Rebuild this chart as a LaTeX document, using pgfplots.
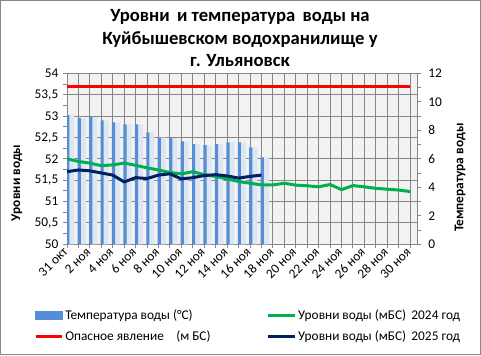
\documentclass[border=0pt]{standalone}
\usepackage{pgfplots}
\usepackage{pgfplotstable}
\pgfplotsset{compat=1.18}
\usepackage{fontspec}
\setmainfont{Carlito}
\definecolor{barblue}{RGB}{85,142,213}
\definecolor{barshadow}{RGB}{222,230,242}
\definecolor{plotbg}{RGB}{242,242,242}
\definecolor{gridgray}{RGB}{134,134,134}
\definecolor{xlgreen}{RGB}{0,176,80}
\definecolor{xlnavy}{RGB}{0,32,96}
\definecolor{xlred}{RGB}{255,0,0}

% Temperature of water (deg C), 2025
\pgfplotstableread{
x t
0 9.10
1 8.86
2 8.93
3 8.70
4 8.57
5 8.42
6 8.42
7 7.86
8 7.49
9 7.46
10 7.23
11 7.04
12 6.97
13 7.04
14 7.16
15 7.16
16 6.81
17 6.10
}\temptable

% Water level 2024 (m BS)
\pgfplotstableread{
x y
0 52.00
1 51.94
2 51.90
3 51.84
4 51.86
5 51.90
6 51.85
7 51.79
8 51.74
9 51.68
10 51.65
11 51.70
12 51.63
13 51.59
14 51.53
15 51.47
16 51.43
17 51.39
18 51.39
19 51.43
20 51.385
21 51.37
22 51.345
23 51.40
24 51.28
25 51.375
26 51.345
27 51.31
28 51.29
29 51.27
30 51.235
}\lvltwentyfour

% Water level 2025 (m BS)
\pgfplotstableread{
x y
0 51.70
1 51.74
2 51.72
3 51.67
4 51.62
5 51.46
6 51.56
7 51.54
8 51.62
9 51.65
10 51.53
11 51.56
12 51.61
13 51.63
14 51.60
15 51.55
16 51.59
17 51.62
}\lvltwentyfive

% Dangerous level (m BS)
\pgfplotstableread{
x y
0 53.7
1 53.7
2 53.7
3 53.7
4 53.7
5 53.7
6 53.7
7 53.7
8 53.7
9 53.7
10 53.7
11 53.7
12 53.7
13 53.7
14 53.7
15 53.7
16 53.7
17 53.7
18 53.7
19 53.7
20 53.7
21 53.7
22 53.7
23 53.7
24 53.7
25 53.7
26 53.7
27 53.7
28 53.7
29 53.7
30 53.7
}\danger

\pgfplotsset{
  base/.style={
    at={(50.25pt,-183.2pt)}, anchor=south west, scale only axis,
    width=262.5pt, height=128.1pt,
    xmin=0, xmax=30.6,
    tick label style={font=\fontsize{10}{12}\selectfont, black},
    /pgf/number format/assume math mode=true,
    /pgf/number format/use comma,
    axis line style={gridgray, line width=0.75pt},
    tick style={gridgray, line width=0.75pt},
    tick align=outside, major tick length=3pt, minor tick length=3pt,
  }
}

\begin{document}
\begin{tikzpicture}
\useasboundingbox (0,0) rectangle (360.75pt,-266.25pt);
\fill[white] (0,0) rectangle (360.75pt,-266.25pt);
\draw[gridgray, line width=0.75pt] (0.375pt,-0.375pt) rectangle (360.375pt,-265.875pt);

% title
\node[font=\bfseries\fontsize{14}{16.8}\selectfont, anchor=base, inner sep=0pt] at (180pt,-16.3pt) {Уровни\, и температура\, воды на};
\node[font=\bfseries\fontsize{14}{16.8}\selectfont, anchor=base, inner sep=0pt] at (180pt,-33pt) {Куйбышевском водохранилище у};
\node[font=\bfseries\fontsize{14}{16.8}\selectfont, anchor=base, inner sep=0pt] at (180pt,-49.5pt) {г. Ульяновск};

% background, grid, left axis, x labels
\begin{axis}[base,
  axis background/.style={fill=plotbg},
  ymin=50, ymax=54, ytick={50,50.5,...,54}, minor y tick num=1,
  ytick pos=left, xtick pos=left,
  xtick={0,2,...,30}, minor xtick={1,3,...,29},
  xticklabels={31 окт,2 ноя,4 ноя,6 ноя,8 ноя,10 ноя,12 ноя,14 ноя,16 ноя,18 ноя,20 ноя,22 ноя,24 ноя,26 ноя,28 ноя,30 ноя},
  xticklabel style={rotate=45, anchor=east, inner sep=1.5pt},
  xmajorgrids, xminorgrids, ymajorgrids,
  major grid style={gridgray, line width=0.75pt},
  minor grid style={gridgray, line width=0.75pt},
  ylabel={Уровни воды},
  ylabel style={font=\bfseries\fontsize{10}{12}\selectfont, at={(axis description cs:-0.143,0.36)}, anchor=center},
]
\end{axis}

% temperature bars, right axis
\begin{axis}[base,
  axis x line=none, axis y line*=right,
  ymin=0, ymax=12, ytick={0,2,...,12}, minor y tick num=1,
  yticklabel style={xshift=2pt},
  ylabel={Температура воды},
  ylabel style={font=\bfseries\fontsize{10}{12}\selectfont, at={(axis description cs:1.123,0.39)}, anchor=center},
]
\addplot[ybar, bar width=5pt, bar shift=3pt, fill=barshadow, draw=none, forget plot] table[x=x, y=t] {\temptable};
\addplot[ybar, bar width=2.4pt, bar shift=0.6pt, fill=barblue, draw=none, forget plot] table[x=x, y=t] {\temptable};
\end{axis}

% water levels, left axis
\begin{axis}[base,
  hide axis,
  ymin=50, ymax=54,
  legend columns=2,
  legend style={at={(axis description cs:-0.095,-0.37)}, anchor=north west,
    draw=none, fill=none, inner sep=0pt, row sep=5pt,
    font=\fontsize{10}{12}\selectfont,
    nodes={inner sep=1.2pt}},
  legend cell align=left,
  legend image code/.code={\draw[#1] (0pt,0pt) -- (20pt,0pt);},
]
\addlegendimage{legend image code/.code={\fill[barblue] (0pt,-2.8pt) rectangle (20pt,2.8pt);}}
\addlegendentry{\makebox[150pt][l]{Температура воды (°C)}}
\addlegendimage{xlgreen, line width=2.25pt}
\addlegendentry{Уровни воды (мБС)\, 2024 год}
\addplot[xlred, line width=2.25pt, forget plot] table[x=x, y=y] {\danger};
\addlegendimage{xlred, line width=2.25pt}
\addlegendentry{\makebox[150pt][l]{Опасное явление\hspace{7pt} (м БС)}}
\addlegendimage{xlnavy, line width=2.25pt}
\addlegendentry{Уровни воды (мБС)\, 2025 год}
\addplot[xlgreen, line width=2.25pt, line join=round, forget plot] table[x=x, y=y] {\lvltwentyfour};
\addplot[xlnavy, line width=2.25pt, line join=round, forget plot] table[x=x, y=y] {\lvltwentyfive};
\end{axis}
\end{tikzpicture}
\end{document}
